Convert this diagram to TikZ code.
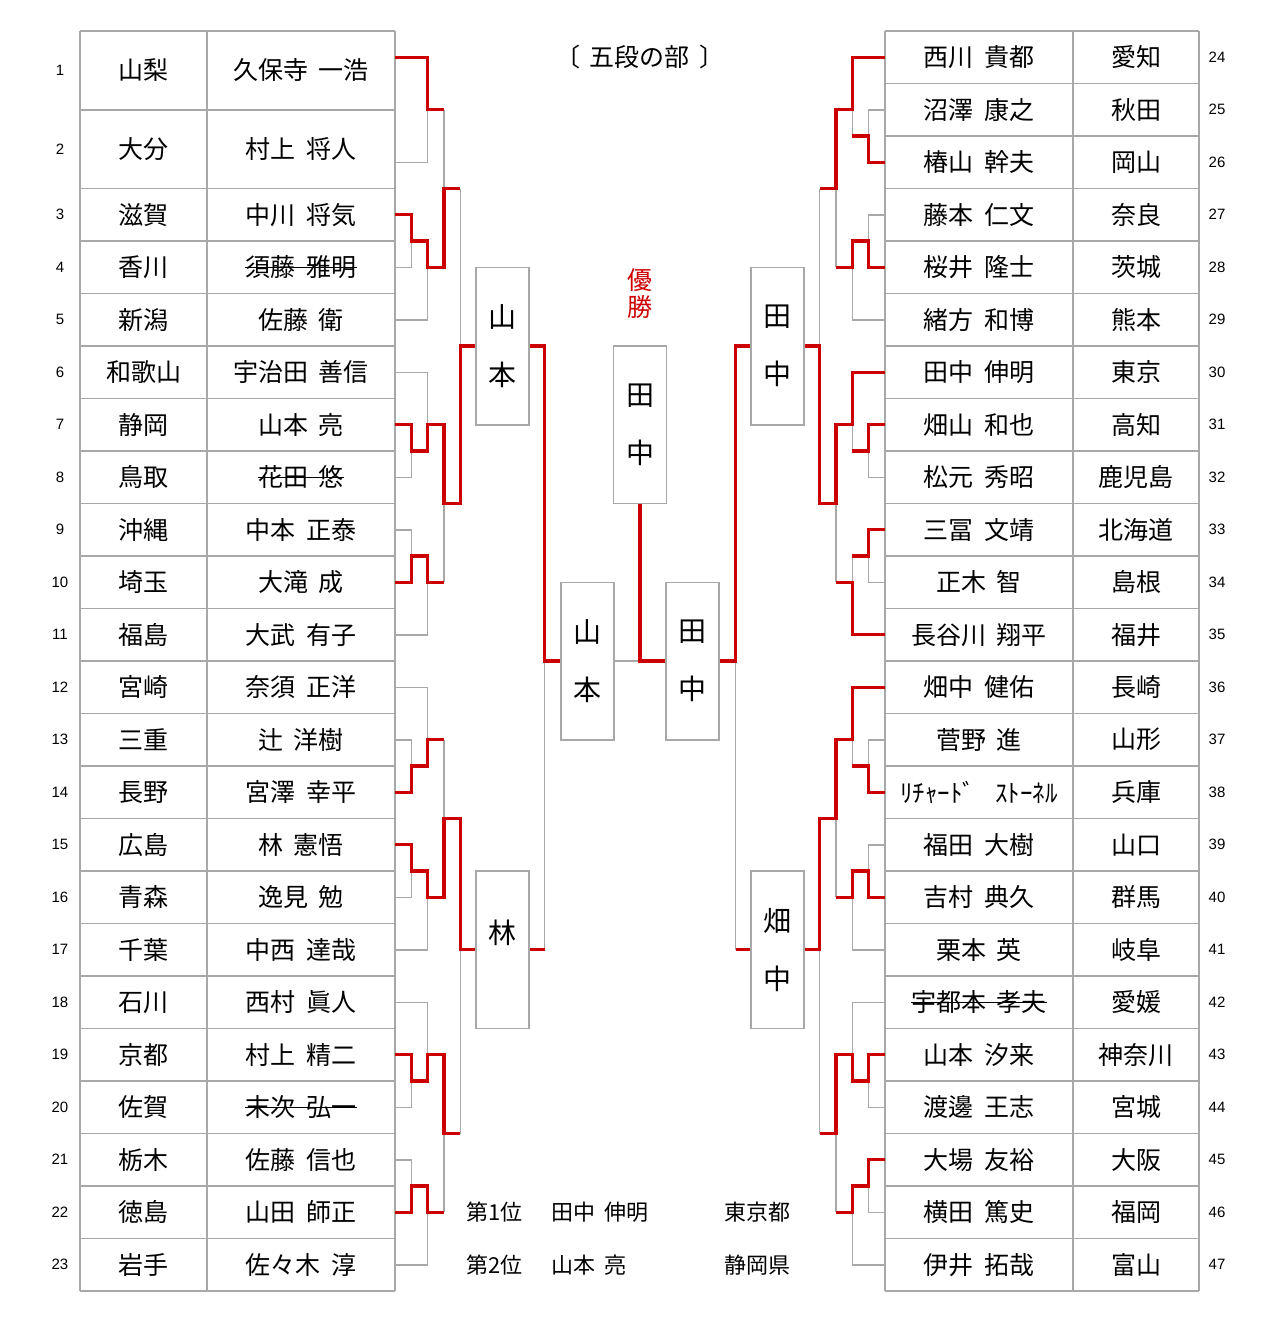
\documentclass[tikz,border=0pt]{standalone}
\usepackage{fontspec}
\setmainfont{Noto Sans CJK JP}[WordSpace=1.9, Kerning=Off]
\newfontfamily\numfont{Liberation Sans}
\definecolor{winred}{RGB}{204,0,0}
\definecolor{linegray}{RGB}{168,168,168}
% bracket levels in px, left side and right side
\def\lA{395}\def\lB{411.3}\def\lC{427.7}\def\lD{444}\def\lE{460.3}\def\lF{544.5}
\def\rA{885}\def\rB{868.7}\def\rC{852.3}\def\rD{836}\def\rE{819.7}\def\rF{735.5}

\begin{document}
\begin{tikzpicture}[x=0.5pt, y=-13.125pt,
	every node/.style={inner sep=0pt, font=\fontsize{12.5}{15}\selectfont},
	tabline/.style={draw=linegray, line width=0.75pt},
	lost/.style={draw=linegray, line width=0.75pt},
	won/.style={draw=winred, line width=1.6pt},
	struck/.style={draw=black, line width=0.7pt},
	seedno/.style={font=\numfont\fontsize{7.5}{9}\selectfont},
	pickbox/.style={draw=linegray, line width=0.75pt, fill=white, minimum width=26.5pt,
		minimum height=78.75pt, align=center, font=\fontsize{14}{29}\selectfont},
	result/.style={anchor=west, font=\fontsize{11}{13}\selectfont}]
	\fill[white] (0,-1.181) rectangle (1280,49.105);
	% tables
	\foreach \x in {80,207,395,885,1073,1199} \draw[tabline] (\x,0) -- (\x,48);
	\foreach \k in {0,3,6,8,...,48} \draw[tabline] (80,\k) -- (395,\k);
	\foreach \k in {0,2,...,48} \draw[tabline] (885,\k) -- (1199,\k);
	\foreach \n/\p/\m in {1/山梨/久保寺 一浩, 2/大分/村上 将人, 3/滋賀/中川 将気, 4/香川/須藤 雅明,
		5/新潟/佐藤 衛, 6/和歌山/宇治田 善信, 7/静岡/山本 亮, 8/鳥取/花田 悠, 9/沖縄/中本 正泰,
		10/埼玉/大滝 成, 11/福島/大武 有子, 12/宮崎/奈須 正洋, 13/三重/辻 洋樹, 14/長野/宮澤 幸平,
		15/広島/林 憲悟, 16/青森/逸見 勉, 17/千葉/中西 達哉, 18/石川/西村 眞人, 19/京都/村上 精二,
		20/佐賀/末次 弘一, 21/栃木/佐藤 信也, 22/徳島/山田 師正, 23/岩手/佐々木 淳} {
		\pgfmathsetmacro{\k}{\n<3 ? 3*\n-1.5 : 2*\n+1}
		\node[seedno] (lno\n) at (60,\k) {\n};
		\node (lp\n) at (143.5,\k) {\p};
		\node (ln\n) at (301,\k) {\m};
	}
	\foreach \m/\p [count=\j] in {西川 貴都/愛知, 沼澤 康之/秋田, 椿山 幹夫/岡山, 藤本 仁文/奈良,
		桜井 隆士/茨城, 緒方 和博/熊本, 田中 伸明/東京, 畑山 和也/高知, 松元 秀昭/鹿児島,
		三冨 文靖/北海道, 正木 智/島根, 長谷川 翔平/福井, 畑中 健佑/長崎, 菅野 進/山形,
		ﾘﾁｬｰﾄﾞ\hspace{0.8em}ｽﾄｰﾈﾙ/兵庫, 福田 大樹/山口, 吉村 典久/群馬, 栗本 英/岐阜, 宇都本 孝夫/愛媛,
		山本 汐来/神奈川, 渡邊 王志/宮城, 大場 友裕/大阪, 横田 篤史/福岡, 伊井 拓哉/富山} {
		\pgfmathtruncatemacro{\n}{\j+23}
		\pgfmathsetmacro{\k}{2*\j-1}
		\node (rn\n) at (979,\k) {\m};
		\node (rp\n) at (1136,\k) {\p};
		\node[seedno] (rno\n) at (1217,\k) {\n};
	}
	\foreach \s in {ln4,ln8,ln20,rn42} \draw[struck] (\s.west) -- (\s.east);
	% boxes of the last rounds
	\node[pickbox] (qL1) at (502.5,12) {山\\本};
	\node[pickbox] (qL2) at (502.5,35) {};
	\node[font=\fontsize{14}{29}\selectfont] (qL2t) at (502.5,34.36) {林};
	\node[pickbox] (sL) at (587.5,24) {山\\本};
	\node[pickbox] (fin) at (640,15) {田\\中};
	\node[pickbox] (sR) at (692.5,24) {田\\中};
	\node[pickbox] (qR1) at (777.5,12) {田\\中};
	\node[pickbox] (qR2) at (777.5,35) {畑\\中};
	\node (title) at (640,1) {〔\hspace{0.4em}五段の部\hspace{0.4em}〕};
	\node[text=winred, align=center, font=\fontsize{12.5}{13.5}\selectfont] (champ) at (640,10) {優\\勝};
	% left bracket, losers
	\draw[lost] (\lA,5) -| (\lC,3);
	\draw[lost] (\lA,9) -| (\lB,8);
	\draw[lost] (\lA,11) -| (\lC,9);
	\draw[lost] (\lD,3) -- (\lD,6);
	\draw[lost] (\lA,13) -| (\lC,15);
	\draw[lost] (\lA,17) -| (\lB,16);
	\draw[lost] (\lA,19) -| (\lB,20);
	\draw[lost] (\lA,23) -| (\lC,21);
	\draw[lost] (\lD,18) -- (\lD,21);
	\draw[lost] (\lE,6) -- (\lE,12);
	\draw[lost] (\lA,25) -| (\lC,27);
	\draw[lost] (\lA,27) -| (\lB,28);
	\draw[lost] (\lA,33) -| (\lB,32);
	\draw[lost] (\lA,35) -| (\lC,33);
	\draw[lost] (\lD,27) -- (\lD,30);
	\draw[lost] (\lA,37) -| (\lC,39);
	\draw[lost] (\lA,41) -| (\lB,40);
	\draw[lost] (\lA,43) -| (\lB,44);
	\draw[lost] (\lA,47) -| (\lC,45);
	\draw[lost] (\lD,42) -- (\lD,45);
	\draw[lost] (\lE,35) -- (\lE,42);
	\draw[lost] (\lF,24) -- (\lF,35);
	\draw[lost] (sL.east) -- (sR.west);
	% right bracket, losers
	\draw[lost] (\rA,3) -| (\rB,4);
	\draw[lost] (\rC,3) -- (\rC,4);
	\draw[lost] (\rA,7) -| (\rB,8);
	\draw[lost] (\rA,11) -| (\rC,9);
	\draw[lost] (\rD,6) -- (\rD,9);
	\draw[lost] (\rE,6) -- (\rE,12);
	\draw[lost] (\rA,17) -| (\rB,16);
	\draw[lost] (\rC,15) -- (\rC,16);
	\draw[lost] (\rA,21) -| (\rB,20);
	\draw[lost] (\rC,20) -- (\rC,21);
	\draw[lost] (\rD,18) -- (\rD,21);
	\draw[lost] (\rA,27) -| (\rB,28);
	\draw[lost] (\rC,27) -- (\rC,28);
	\draw[lost] (\rA,31) -| (\rB,32);
	\draw[lost] (\rA,35) -| (\rC,33);
	\draw[lost] (\rD,30) -- (\rD,33);
	\draw[lost] (\rA,37) -| (\rC,39);
	\draw[lost] (\rA,41) -| (\rB,40);
	\draw[lost] (\rA,45) -| (\rB,44);
	\draw[lost] (\rA,47) -| (\rC,45);
	\draw[lost] (\rD,42) -- (\rD,45);
	\draw[lost] (\rE,35) -- (\rE,42);
	\draw[lost] (\rF,24) -- (\rF,35);
	% left bracket, winners
	\draw[won] (\lA,1) -| (\lC,3) -- (\lD,3);
	\draw[won] (\lA,7) -| (\lB,8) -| (\lC,9) -| (\lD,6) -- (\lE,6);
	\draw[won] (\lA,15) -| (\lB,16) -| (\lC,15) -| (\lD,18) -| (\lE,12) -- (qL1.west);
	\draw[won] (\lA,21) -| (\lB,20) -| (\lC,21) -- (\lD,21);
	\draw[won] (\lA,29) -| (\lB,28) -| (\lC,27) -- (\lD,27);
	\draw[won] (\lA,31) -| (\lB,32) -| (\lC,33) -| (\lD,30) -| (\lE,35) -- (qL2.west);
	\draw[won] (\lA,39) -| (\lB,40) -| (\lC,39) -| (\lD,42) -- (\lE,42);
	\draw[won] (\lA,45) -| (\lB,44) -| (\lC,45) -- (\lD,45);
	\draw[won] (qL1.east) -| (\lF,24) -- (sL.west);
	\draw[won] (qL2.east) -- (\lF,35);
	% right bracket, winners
	\draw[won] (\rA,1) -| (\rC,3) -| (\rD,6) -- (\rE,6);
	\draw[won] (\rA,5) -| (\rB,4) -- (\rC,4);
	\draw[won] (\rA,9) -| (\rB,8) -| (\rC,9) -- (\rD,9);
	\draw[won] (\rA,13) -| (\rC,15) -| (\rD,18) -| (\rE,12) -- (qR1.east);
	\draw[won] (\rA,15) -| (\rB,16) -- (\rC,16);
	\draw[won] (\rA,19) -| (\rB,20) -- (\rC,20);
	\draw[won] (\rA,23) -| (\rC,21) -- (\rD,21);
	\draw[won] (\rA,25) -| (\rC,27) -| (\rD,30) -| (\rE,35) -- (qR2.east);
	\draw[won] (\rA,29) -| (\rB,28) -- (\rC,28);
	\draw[won] (\rA,33) -| (\rB,32) -| (\rC,33) -- (\rD,33);
	\draw[won] (\rA,39) -| (\rB,40) -| (\rC,39) -| (\rD,42) -- (\rE,42);
	\draw[won] (\rA,43) -| (\rB,44) -| (\rC,45) -- (\rD,45);
	\draw[won] (qR1.west) -| (\rF,24) -- (sR.east);
	\draw[won] (qR2.west) -- (\rF,35);
	\draw[won] (sR.west) -| (fin.south);
	% final standing
	\node[result] (rank1) at (466,45) {第1位};
	\node[result] (name1) at (551,45) {田中 伸明};
	\node[result] (pref1) at (724,45) {東京都};
	\node[result] (rank2) at (466,47) {第2位};
	\node[result] (name2) at (551,47) {山本 亮};
	\node[result] (pref2) at (724,47) {静岡県};
\end{tikzpicture}
\end{document}
